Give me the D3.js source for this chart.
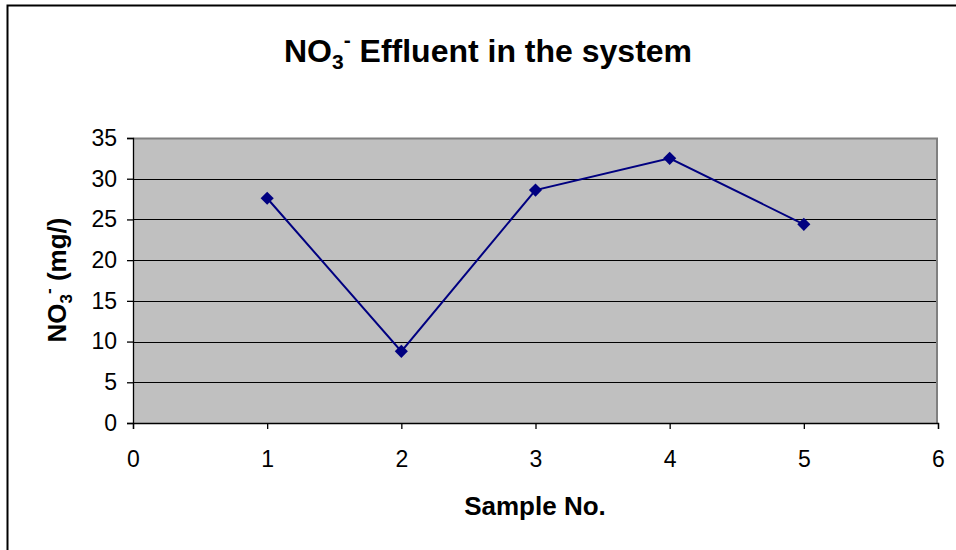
<!DOCTYPE html>
<html>
<head>
<meta charset="utf-8">
<script src="https://d3js.org/d3.v7.min.js"></script>
<style>
  body { margin: 0; background: #fff; }
  svg { display: block; font-family: "Liberation Sans", Arial, sans-serif; }
</style>
</head>
<body>
<script>
// sample numbers and NO3- effluent (mg/l)
var samples = [1, 2, 3, 4, 5];
var no3 = [27.6, 8.8, 28.6, 32.5, 24.4];
var xTicks = [0, 1, 2, 3, 4, 5, 6];
var yTicks = [0, 5, 10, 15, 20, 25, 30, 35];

var W = 956, H = 550;
var margin = {top: 138, right: 18, bottom: 127, left: 133};
var width = W - margin.left - margin.right,
    height = H - margin.top - margin.bottom;

var svg = d3.select("body").append("svg")
  .attr("width", W).attr("height", H);

// outer chart frame (only left and top visible)
svg.append("path")
  .attr("d", "M7.5," + H + "V5.5H" + W)
  .attr("fill", "none").attr("stroke", "#000").attr("stroke-width", 2);

var g = svg.append("g")
  .attr("transform", "translate(" + margin.left + "," + margin.top + ")");

var x = d3.scaleLinear().domain([0, 6]).range([0, width]);
var y = d3.scaleLinear().domain([0, 35]).range([height, 0]);

g.append("rect")
  .attr("width", width).attr("height", height)
  .attr("fill", "#c0c0c0");

// grid lines
g.selectAll(".grid").data(yTicks.filter(function(d){ return d > 0 && d < 35; }))
  .enter().append("line")
  .attr("x1", 0).attr("x2", width)
  .attr("y1", function(d){ return Math.round(y(d)) + 0.5; })
  .attr("y2", function(d){ return Math.round(y(d)) + 0.5; })
  .attr("stroke", "#000").attr("stroke-width", 1);

// plot border top/right
g.append("path")
  .attr("d", "M0,0.5H" + (width - 1) + "V" + height)
  .attr("fill", "none").attr("stroke", "#808080").attr("stroke-width", 2);

var yAxis = d3.axisLeft(y).tickValues(yTicks).tickSize(6).tickPadding(10).tickFormat(d3.format("d"));
var xAxis = d3.axisBottom(x).tickValues(xTicks).tickSize(6).tickPadding(22).tickFormat(d3.format("d"));

var ya = g.append("g").call(yAxis);
var xa = g.append("g").attr("transform", "translate(0," + height + ")").call(xAxis);
[ya, xa].forEach(function(a){
  a.attr("font-family", "'Liberation Sans', Arial, sans-serif").attr("font-size", 23);
  a.selectAll("path,line").attr("stroke", "#000").attr("stroke-width", 1.3);
  a.selectAll("text").attr("fill", "#000");
});

// line and markers
var pts = samples.map(function(s, i){ return [s, no3[i]]; });
g.append("path")
  .datum(pts)
  .attr("fill", "none").attr("stroke", "#000080").attr("stroke-width", 2)
  .attr("d", d3.line().x(function(d){ return x(d[0]); }).y(function(d){ return y(d[1]); }));

g.selectAll(".pt").data(pts).enter().append("path")
  .attr("d", d3.symbol().type(d3.symbolDiamond2).size(110))
  .attr("transform", function(d){ return "translate(" + x(d[0]) + "," + y(d[1]) + ")"; })
  .attr("fill", "#000080");

// title
var t = svg.append("text")
  .attr("x", 488).attr("y", 62)
  .attr("text-anchor", "middle")
  .attr("font-size", 32).attr("font-weight", "bold");
t.append("tspan").text("NO");
t.append("tspan").attr("font-size", 21).attr("dy", 7).text("3");
t.append("tspan").attr("font-size", 21).attr("dy", -22).text("-");
t.append("tspan").attr("dy", 15).text(" Effluent in the system");

// axis titles
svg.append("text")
  .attr("x", 535).attr("y", 515)
  .attr("text-anchor", "middle")
  .attr("font-size", 26).attr("font-weight", "bold")
  .text("Sample No.");

var yl = svg.append("text")
  .attr("transform", "translate(66,280) rotate(-90)")
  .attr("text-anchor", "middle")
  .attr("font-size", 26).attr("font-weight", "bold");
yl.append("tspan").text("NO");
yl.append("tspan").attr("font-size", 17).attr("dy", 6).text("3");
yl.append("tspan").attr("font-size", 17).attr("dy", -18).text("-");
yl.append("tspan").attr("dy", 12).text(" (mg/)");
</script>
</body>
</html>
